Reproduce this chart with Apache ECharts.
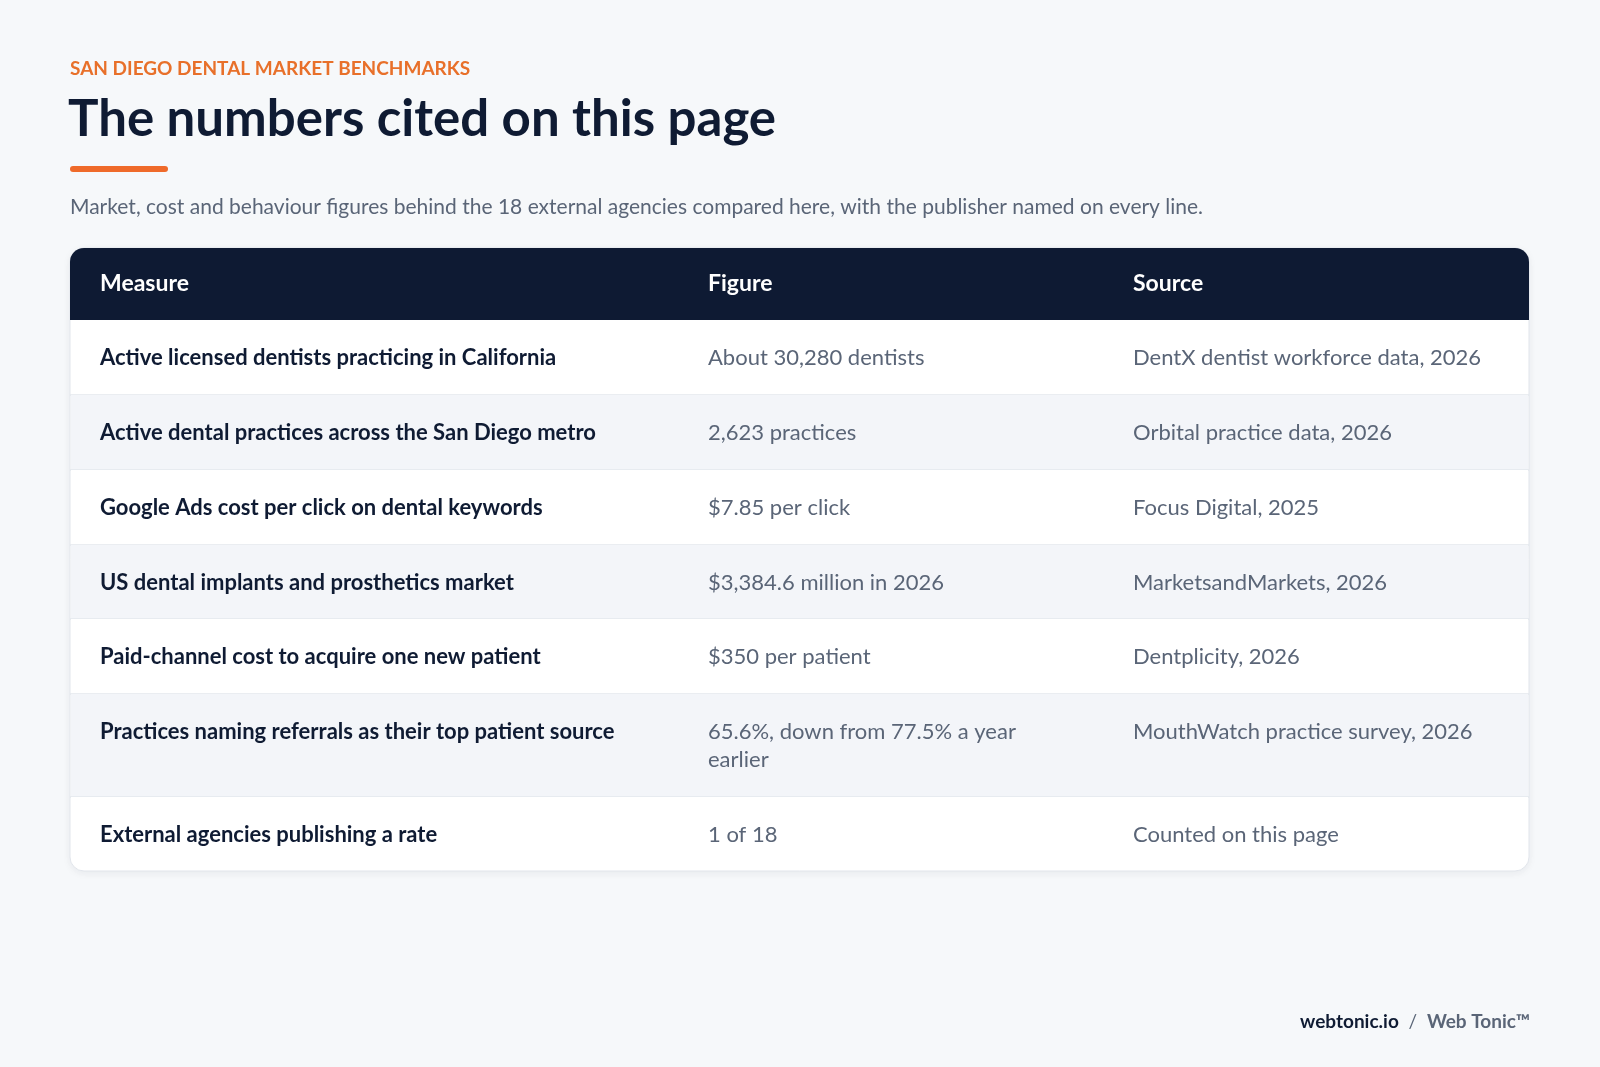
<!DOCTYPE html>
<html><head><meta charset="utf-8">
<script src="https://cdn.jsdelivr.net/npm/echarts@6/dist/echarts.min.js"></script>
<style>html,body{margin:0;padding:0;background:#F6F8FA}#c{width:1600px;height:1067px}</style>
</head><body><div id="c"></div>
<script>
const eyebrow = 'SAN DIEGO DENTAL MARKET BENCHMARKS';
const title = 'The numbers cited on this page';
const subtitle = 'Market, cost and behaviour figures behind the 18 external agencies compared here, with the publisher named on every line.';
const headers = ['Measure', 'Figure', 'Source'];
const measures = [
  'Active licensed dentists practicing in California',
  'Active dental practices across the San Diego metro',
  'Google Ads cost per click on dental keywords',
  'US dental implants and prosthetics market',
  'Paid-channel cost to acquire one new patient',
  'Practices naming referrals as their top patient source',
  'External agencies publishing a rate'
];
const figures = [
  'About 30,280 dentists',
  '2,623 practices',
  '$7.85 per click',
  '$3,384.6 million in 2026',
  '$350 per patient',
  '65.6%, down from 77.5% a year earlier',
  '1 of 18'
];
const sources = [
  'DentX dentist workforce data, 2026',
  'Orbital practice data, 2026',
  'Focus Digital, 2025',
  'MarketsandMarkets, 2026',
  'Dentplicity, 2026',
  'MouthWatch practice survey, 2026',
  'Counted on this page'
];

const FONT = 'Lato, "Noto Sans", sans-serif';
const L = 70, R = 1529, W = R - L;
const tableTop = 248, headBottom = 320;
const rowBounds = [320, 395, 470, 545, 619, 694, 797, 871];
const colX = [100, 708, 1133];
const colW = [560, 345, 380];

const g = [];
g.push({type:'text', left:L, top:59, style:{text:eyebrow, font:'bold 19px '+FONT, fill:'#E8702A'}});
g.push({type:'text', left:L-2, top:94, style:{text:title, font:'bold 51px '+FONT, fill:'#0F1B33'}});
g.push({type:'rect', shape:{x:L, y:166, width:98, height:6, r:3}, style:{fill:'#EF6A2A'}});
g.push({type:'text', left:L, top:197, style:{text:subtitle, font:'21px '+FONT, fill:'#5A6577'}});

// table frame
g.push({type:'rect', shape:{x:L, y:tableTop, width:W, height:rowBounds[7]-tableTop, r:14},
  style:{fill:'#FFFFFF', stroke:'#E2E6EC', lineWidth:1, shadowBlur:8, shadowColor:'rgba(15,27,51,0.06)', shadowOffsetY:2}});
g.push({type:'rect', shape:{x:L, y:tableTop, width:W, height:headBottom-tableTop, r:[14,14,0,0]}, style:{fill:'#0E1A33'}});
headers.forEach((h,i)=>g.push({type:'text', x:colX[i], y:(tableTop+headBottom)/2, style:{text:h, font:'bold 23px '+FONT, fill:'#FFFFFF', verticalAlign:'middle'}}));

measures.forEach((m,i)=>{
  const y0 = rowBounds[i], y1 = rowBounds[i+1];
  const last = i === measures.length-1;
  g.push({type:'rect', shape:{x:L+1, y:y0, width:W-2, height:y1-y0-(last?1:0), r:last?[0,0,13,13]:0},
    style:{fill: i%2===1 ? '#F3F5F9' : '#FFFFFF'}});
  if (!last) g.push({type:'line', shape:{x1:L, y1:y1, x2:R, y2:y1}, style:{stroke:'#E3E7ED', lineWidth:1.5}});
  const vals = [m, figures[i], sources[i]];
  vals.forEach((v,j)=>g.push({type:'text', x:colX[j], y:y0+24, style:{
    text:v, width:colW[j], overflow:'break', lineHeight:28,
    font:(j===0?'bold ':'')+'22px '+FONT, fill:j===0?'#0F1B33':'#5A6577', verticalAlign:'top'}}));
});

g.push({type:'text', right:70, top:1012, style:{
  text:'{a|webtonic.io}{s|  /  }{b|Web Tonic™}',
  rich:{a:{font:'bold 19px '+FONT, fill:'#0F1B33'}, s:{font:'19px '+FONT, fill:'#5A6577'}, b:{font:'bold 19px '+FONT, fill:'#5A6577'}}}});

const chart = echarts.init(document.getElementById('c'));
chart.setOption({backgroundColor:'#F6F8FA', graphic:g});
</script></body></html>
